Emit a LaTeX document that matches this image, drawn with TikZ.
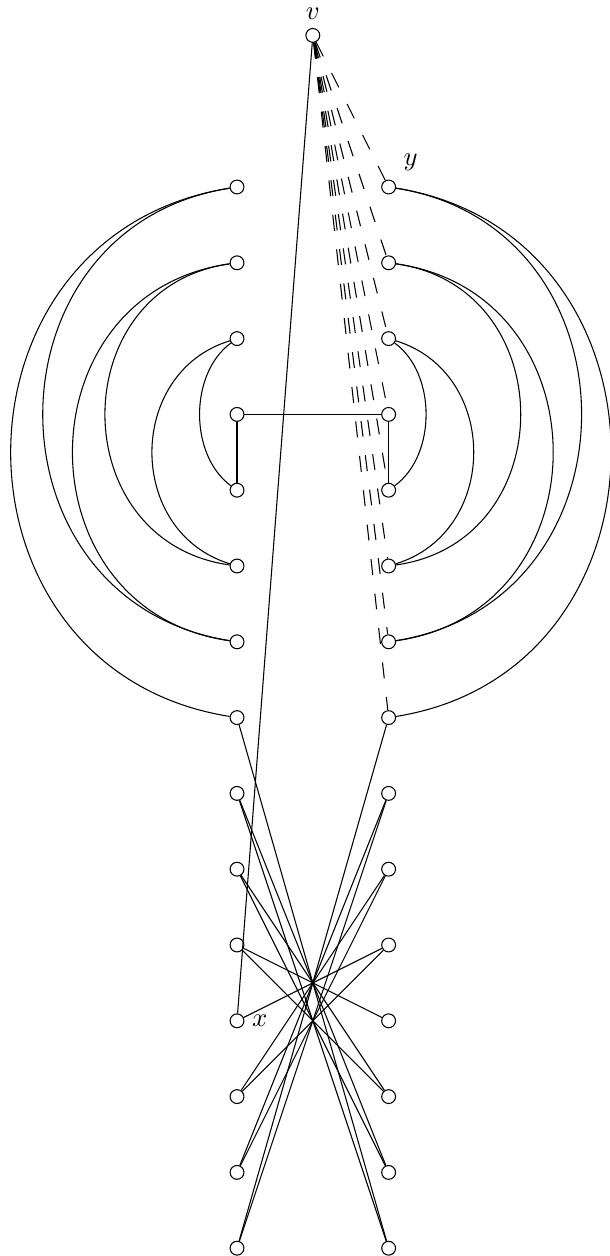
\documentclass[tikz,border=0pt]{standalone}
\usepackage{tikz}
\usepackage{amsmath}

\begin{document}
\begin{tikzpicture}[
  vtx/.style={circle, draw, fill=white, inner sep=0pt, minimum size=5.2pt},
  far/.style={dash pattern=on 6pt off 7pt}
]

\useasboundingbox (-4.127,1.467) rectangle (3.916,-15.103);

% two columns of vertices, and v on top
\foreach \k in {1,...,15} {
  \node[vtx] (l\k) at (-1,-\k) {};
  \node[vtx] (r\k) at (1,-\k) {};
}
\node[vtx] (v) at (0,1) {};

\node (vlab) at (0,1.28) {$v$};
\node (ylab) at (1.29,-0.68) {$y$};
\node (xlab) at (-0.70,-12) {$x$};

% v to x, and v to the upper right column
\draw (v) -- (l12);
\foreach \k in {1,...,8} \draw[far] (v) -- (r\k);

% middle rungs
\draw (l4) -- (r4);
\draw (l4) -- (l5);
\draw (r4) -- (r5);

% nested arcs on both sides
\foreach \a/\b/\ang/\tl/\tr in {1/8/81/1.435/1.41, 1/7/81/1.43/1.42, 2/7/82/1.44/1.44,
                                 2/6/82/1.43/1.43, 3/6/73/1.25/1.25, 3/5/54/0.93/0.93} {
  \draw (l\a) to[bend right=\ang,looseness=\tl] (l\b);
  \draw (r\a) to[bend left=\ang,looseness=\tr] (r\b);
}

% crossing edges at the bottom
\foreach \a/\b in {8/15, 9/14, 10/13, 11/12, 9/15, 10/14, 11/13} {
  \draw (l\a) -- (r\b);
  \draw (r\a) -- (l\b);
}

\end{tikzpicture}
\end{document}
